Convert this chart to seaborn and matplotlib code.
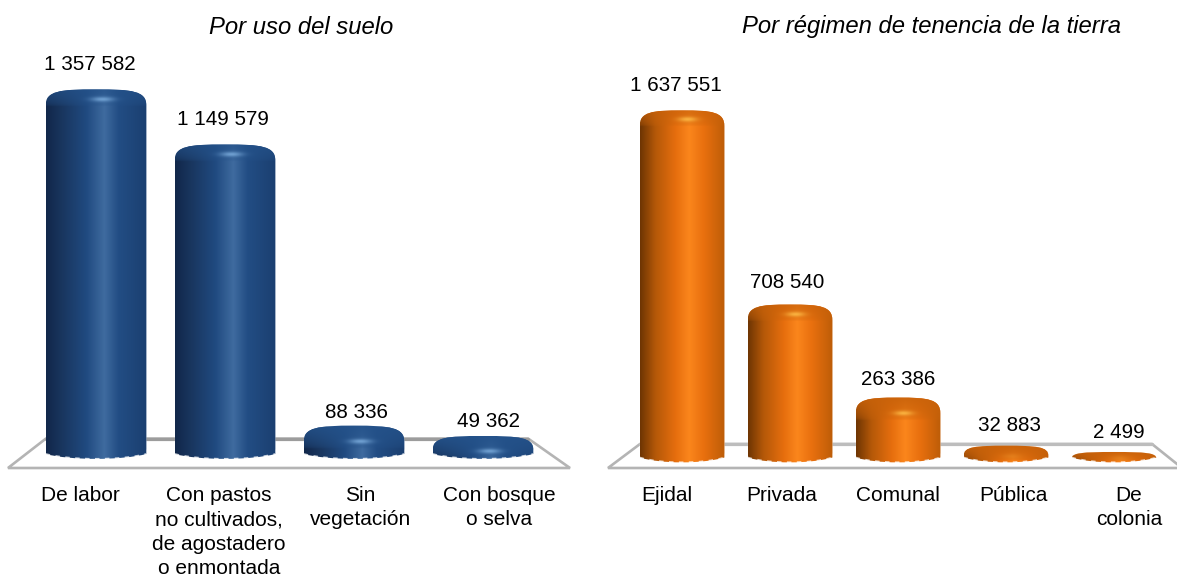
import numpy as np
import pandas as pd
import matplotlib
matplotlib.use("Agg")
import matplotlib.pyplot as plt
from matplotlib.path import Path
from matplotlib.patches import Polygon, PathPatch
from matplotlib.colors import to_rgb
import seaborn as sns

# ---- data ----
uso_labels = ["De labor", "Con pastos\nno cultivados,\nde agostadero\no enmontada",
              "Sin\nvegetación", "Con bosque\no selva"]
uso_values = [1357582, 1149579, 88336, 49362]
uso_text = ["1 357 582", "1 149 579", "88 336", "49 362"]
tenencia_labels = ["Ejidal", "Privada", "Comunal", "Pública", "De\ncolonia"]
tenencia_values = [1637551, 708540, 263386, 32883, 2499]
tenencia_text = ["1 637 551", "708 540", "263 386", "32 883", "2 499"]
titles = ["Por uso del suelo", "Por régimen de tenencia de la tierra"]

W, H = 1177, 577
sns.set_theme(style="white")
plt.rcParams["font.family"] = ["Liberation Sans", "DejaVu Sans"]
fig = plt.figure(figsize=(W / 100, H / 100), dpi=100, facecolor="white")


def fx(p):
    return p / W


def fy(p):
    return 1 - p / H


def platform(front_l, front_r, back_l, back_r, y_back, y_front, back_col):
    pts = [(fx(front_l), fy(y_front)), (fx(back_l), fy(y_back)),
           (fx(back_r), fy(y_back)), (fx(front_r), fy(y_front))]
    fig.add_artist(Polygon(pts, closed=True, facecolor="white", edgecolor="#b4b4b4",
                           linewidth=1.9, joinstyle="miter",
                           transform=fig.transFigure, zorder=-1))
    fig.add_artist(plt.Line2D([fx(back_l), fx(back_r)], [fy(y_back), fy(y_back)],
                              color=back_col, lw=2.3, transform=fig.transFigure, zorder=-1))


def bottom_curve(x0, x1, w, bottom, sag):
    return [(x0, bottom), (x0 + 0.25 * w, bottom - sag), (x1 - 0.25 * w, bottom - sag),
            (x1, bottom)]


def shape_path(x0, x1, top, bottom, w, ry, sag):
    mid = 0.5 * (x0 + x1)
    b = bottom_curve(x0, x1, w, bottom, sag)
    return Path(
        [(x0, bottom), (x0, top - ry),
         (x0, top - 0.12 * ry), (x0 + 0.14 * w, top), (mid, top),
         (x1 - 0.14 * w, top), (x1, top - 0.12 * ry), (x1, top - ry),
         (x1, bottom),
         b[2], b[1], b[0],
         (x0, bottom)],
        [Path.MOVETO, Path.LINETO, Path.CURVE4, Path.CURVE4, Path.CURVE4,
         Path.CURVE4, Path.CURVE4, Path.CURVE4, Path.LINETO,
         Path.CURVE4, Path.CURVE4, Path.CURVE4, Path.CLOSEPOLY])


def panel(labels, values, texts, tick_shift, dx, dy, px_left, px_right, px_zero,
          px_per_unit, stops, cap_rgb, hilite_rgb, width):
    px_top, px_bottom = 45, 470
    ax = fig.add_axes([fx(px_left), fy(px_bottom), (px_right - px_left) / W,
                       (px_bottom - px_top) / H])
    ax.patch.set_visible(False)
    df = pd.DataFrame({"cat": labels, "val": values})
    sns.barplot(data=df, x="cat", y="val", color=stops[2][1], width=width, ax=ax,
                saturation=1, order=labels)
    n = len(labels)
    per_px = 1 / px_per_unit
    ylim = (-(px_bottom - px_zero) * per_px, (px_zero - px_top) * per_px)
    edge_px, sag_px = 5, 6.5

    pos = [s[0] for s in stops]
    cols = np.array([to_rgb(s[1]) for s in stops])
    cap_c = np.array(to_rgb(cap_rgb))
    hil_c = np.array(to_rgb(hilite_rgb))
    for bar in list(ax.patches):
        x0, w, v = bar.get_x(), bar.get_width(), bar.get_height()
        x1 = x0 + w
        bottom = -edge_px * per_px
        sag = sag_px * per_px
        h_px = v * px_per_unit + edge_px + 0.75 * sag_px
        ry_px = min(16, h_px * 0.6)
        path = shape_path(x0, x1, v, bottom, w, ry_px * per_px, sag)
        bar.set_clip_path(path, ax.transData)

        if h_px > 100:
            cy, cap_amount, cap_len = 10, 0.72, ry_px * 1.05
        elif h_px > 28:
            cy, cap_amount, cap_len = 16, 0.9, 23
        else:
            cy, cap_amount, cap_len = h_px * 0.66, 0.95, h_px * 0.95
        nx, ny = 160, max(int(h_px) * 2, 24)
        u = np.linspace(0, 1, nx)
        py = np.linspace(0, h_px + 2, ny)  # px below the top of the bar
        rgb = np.stack([np.interp(u, pos, cols[:, k]) for k in range(3)], axis=-1)
        img = np.repeat(rgb[None, :, :], ny, axis=0)
        cap = cap_amount * np.clip(1 - py / cap_len, 0, 1)[:, None, None] ** 0.45
        img = img * (1 - cap) + cap_c * cap
        glint_amp = 0.8 if h_px > 20 else 0.15
        uu, yy = np.meshgrid(u, py)
        glint = np.exp(-((uu - 0.56) / 0.11) ** 2 - ((yy - cy) / 2.4) ** 2)[..., None]
        img = img * (1 - glint_amp * glint) + hil_c * glint_amp * glint
        im = ax.imshow(np.clip(img, 0, 1), extent=(x0, x1, v - (h_px + 2) * per_px, v),
                       aspect="auto", origin="upper", zorder=3, interpolation="bilinear")
        im.set_clip_path(path, ax.transData)
        # the dashed, washed-out foot of the cylinder
        foot = Path(bottom_curve(x0, x1, w, bottom, sag),
                    [Path.MOVETO, Path.CURVE4, Path.CURVE4, Path.CURVE4])
        ax.add_patch(PathPatch(foot, facecolor="none", edgecolor="white", lw=1.3,
                               alpha=0.75, linestyle=(0, (2.5, 3)), zorder=4))

    ax.set_xlim(-0.5, n - 0.5)
    ax.set_ylim(*ylim)
    ax.set_xlabel("")
    ax.set_ylabel("")
    ax.set_yticks([])
    ax.set_xticks(np.arange(n) + np.array(tick_shift), labels, fontsize=15,
                  linespacing=1.36, color="black", va="top")
    ax.tick_params(axis="x", length=0, pad=11.5)
    sns.despine(ax=ax, left=True, bottom=True)
    for i, v in enumerate(values):
        ax.annotate(texts[i], (i, v), xytext=(dx[i], dy[i]), textcoords="offset pixels",
                    ha="center", va="center", fontsize=14.9, color="black", zorder=5,
                    annotation_clip=False)
    return ax


BLUE = [(0, "#11274a"), (0.16, "#19365f"), (0.40, "#204a80"), (0.58, "#3f6b9f"),
        (0.72, "#224d84"), (1, "#1b3f70")]
ORANGE = [(0, "#6e3503"), (0.18, "#b45808"), (0.42, "#e66e0e"), (0.58, "#fb861c"),
          (0.76, "#e86f0e"), (1, "#bd5d08")]

platform(8, 570, 46, 528, 438.5, 468, "#9c9c9c")
platform(608, 1182, 640, 1152, 444, 468, "#bdbdbd")

panel(uso_labels, uso_values, uso_text,
      tick_shift=[-0.124, -0.047, 0.05, 0.124],
      dx=[-6, -2.5, 2.5, 5.5], dy=[25, 25, 13, 14],
      px_left=31.5, px_right=547.5, px_zero=449, px_per_unit=0.000265,
      stops=BLUE, cap_rgb="#24528a", hilite_rgb="#7fb0e0", width=0.78)
panel(tenencia_labels, tenencia_values, tenencia_text,
      tick_shift=[-0.139, -0.074, 0.0, 0.065, 0.139],
      dx=[-6, -3, 0, 3, 5], dy=[25, 22, 18, 20, 19],
      px_left=628, px_right=1168, px_zero=452.5, px_per_unit=0.000209,
      stops=ORANGE, cap_rgb="#c8620a", hilite_rgb="#ffc04a", width=0.785)

fig.text(fx(301), fy(27), titles[0], ha="center", va="center", style="italic",
         fontsize=17.2, color="black")
fig.text(fx(932), fy(27), titles[1], ha="center", va="center", style="italic",
         fontsize=17.2, color="black")

fig.savefig("out.png", dpi=100, facecolor="white")
